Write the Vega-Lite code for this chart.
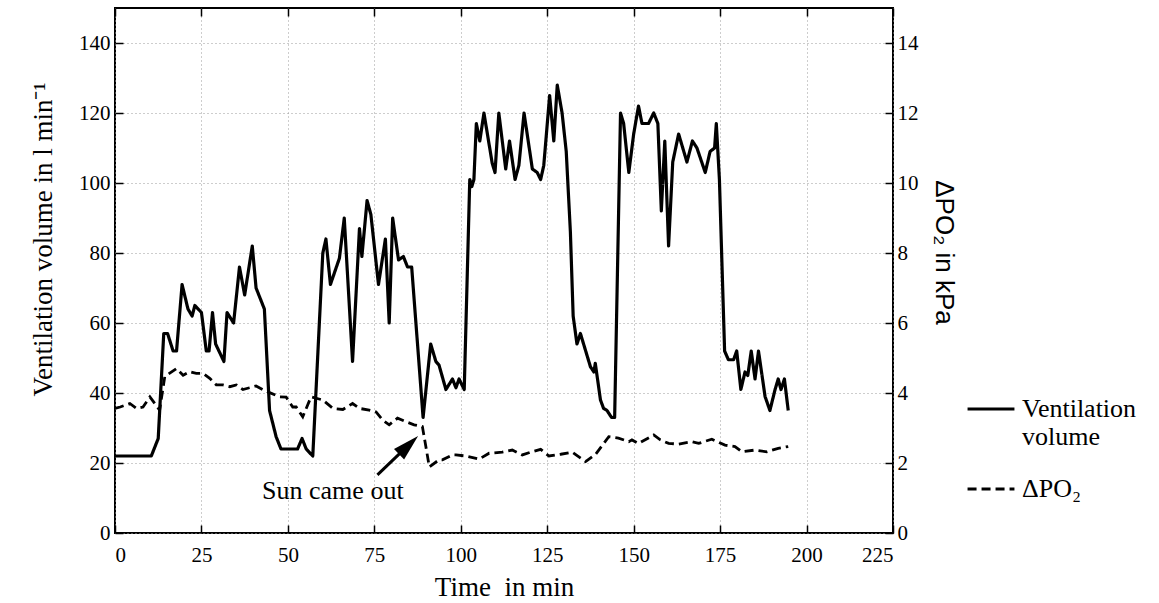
{
  "$schema": "https://vega.github.io/schema/vega-lite/v6.json",
  "width": 778,
  "height": 525,
  "autosize": {"type": "none"},
  "padding": {"left": 115, "top": 8, "right": 266, "bottom": 70},
  "background": "white",
  "config": {
    "view": {"stroke": "black", "strokeWidth": 2},
    "font": "Liberation Serif",
    "axis": {
      "domain": false,
      "labelFont": "Liberation Serif",
      "labelFontSize": 21,
      "labelColor": "black",
      "titleFont": "Liberation Serif",
      "titleFontSize": 27,
      "titleFontWeight": "normal",
      "titleColor": "black",
      "tickColor": "black",
      "tickWidth": 1.5,
      "tickSize": -8,
      "gridColor": "#9a9a9a",
      "gridDash": [1, 3],
      "gridWidth": 1
    },
    "legend": {
      "labelFont": "Liberation Serif",
      "labelFontSize": 26,
      "labelColor": "black"
    }
  },
  "datasets": {
    "vent": [
      {"t": 0, "vent": 22}, {"t": 10.5, "vent": 22}, {"t": 12.5, "vent": 27}, {"t": 14.1, "vent": 57},
      {"t": 15.2, "vent": 57}, {"t": 16.8, "vent": 52}, {"t": 17.8, "vent": 52}, {"t": 19.4, "vent": 71},
      {"t": 21.1, "vent": 64}, {"t": 22.3, "vent": 62}, {"t": 23.1, "vent": 65}, {"t": 25, "vent": 63},
      {"t": 26.4, "vent": 52}, {"t": 27.2, "vent": 52}, {"t": 28.2, "vent": 63}, {"t": 29.1, "vent": 54},
      {"t": 31.5, "vent": 49}, {"t": 32.4, "vent": 63}, {"t": 34.3, "vent": 60}, {"t": 36, "vent": 76},
      {"t": 37.5, "vent": 68}, {"t": 39.7, "vent": 82}, {"t": 40.8, "vent": 70}, {"t": 43.2, "vent": 64},
      {"t": 44.7, "vent": 35}, {"t": 46.6, "vent": 27.5}, {"t": 48, "vent": 24}, {"t": 52.8, "vent": 24},
      {"t": 54.1, "vent": 27}, {"t": 55.3, "vent": 24}, {"t": 57.2, "vent": 22}, {"t": 60.1, "vent": 80},
      {"t": 61, "vent": 84}, {"t": 62.3, "vent": 71}, {"t": 64.9, "vent": 78.5}, {"t": 66.3, "vent": 90},
      {"t": 68.7, "vent": 49}, {"t": 70.7, "vent": 87}, {"t": 71.4, "vent": 79}, {"t": 72.9, "vent": 95},
      {"t": 74, "vent": 91}, {"t": 76.2, "vent": 71}, {"t": 78.2, "vent": 84}, {"t": 79.3, "vent": 60},
      {"t": 80.3, "vent": 90}, {"t": 82, "vent": 78}, {"t": 83.4, "vent": 79}, {"t": 84.6, "vent": 76},
      {"t": 85.8, "vent": 76}, {"t": 89.1, "vent": 33}, {"t": 91.3, "vent": 54}, {"t": 92.8, "vent": 49},
      {"t": 93.7, "vent": 48}, {"t": 95.7, "vent": 41}, {"t": 97.6, "vent": 44}, {"t": 98.6, "vent": 41.5},
      {"t": 99.5, "vent": 44}, {"t": 101, "vent": 41}, {"t": 102.6, "vent": 101}, {"t": 103.2, "vent": 99},
      {"t": 103.8, "vent": 101}, {"t": 104.5, "vent": 117}, {"t": 105.5, "vent": 112}, {"t": 106.7, "vent": 120},
      {"t": 109.1, "vent": 105.6}, {"t": 109.9, "vent": 103}, {"t": 111, "vent": 120}, {"t": 113, "vent": 104},
      {"t": 114.1, "vent": 112}, {"t": 115.7, "vent": 101}, {"t": 116.8, "vent": 105}, {"t": 118.3, "vent": 120},
      {"t": 120.7, "vent": 104}, {"t": 122.1, "vent": 103}, {"t": 123.1, "vent": 101}, {"t": 124, "vent": 105},
      {"t": 125.7, "vent": 125}, {"t": 126.9, "vent": 112}, {"t": 127.9, "vent": 128}, {"t": 129.3, "vent": 120},
      {"t": 130.5, "vent": 109}, {"t": 131.7, "vent": 86}, {"t": 132.5, "vent": 62}, {"t": 133.6, "vent": 54},
      {"t": 134.6, "vent": 57}, {"t": 137.5, "vent": 47.5}, {"t": 138.5, "vent": 46}, {"t": 138.9, "vent": 48.5},
      {"t": 140.4, "vent": 38}, {"t": 141.3, "vent": 35.6}, {"t": 142.3, "vent": 35}, {"t": 143.6, "vent": 33},
      {"t": 144.5, "vent": 33}, {"t": 146.2, "vent": 120}, {"t": 147.1, "vent": 117}, {"t": 148.6, "vent": 103},
      {"t": 150, "vent": 114}, {"t": 151.4, "vent": 122}, {"t": 152.4, "vent": 117}, {"t": 154.3, "vent": 117},
      {"t": 155.8, "vent": 120}, {"t": 157, "vent": 117}, {"t": 158, "vent": 92}, {"t": 159, "vent": 112},
      {"t": 160.1, "vent": 82}, {"t": 161.3, "vent": 106}, {"t": 163, "vent": 114}, {"t": 165.4, "vent": 106},
      {"t": 167, "vent": 112}, {"t": 168.3, "vent": 110}, {"t": 170.7, "vent": 103}, {"t": 172.1, "vent": 109},
      {"t": 173.4, "vent": 110}, {"t": 173.9, "vent": 117}, {"t": 174.8, "vent": 101}, {"t": 175.5, "vent": 78},
      {"t": 176.3, "vent": 52}, {"t": 177.4, "vent": 49.5}, {"t": 178.9, "vent": 49.5}, {"t": 179.8, "vent": 52},
      {"t": 181, "vent": 41}, {"t": 182.2, "vent": 46}, {"t": 183, "vent": 45}, {"t": 184, "vent": 52},
      {"t": 185.1, "vent": 44}, {"t": 186.1, "vent": 52}, {"t": 188, "vent": 39}, {"t": 189.4, "vent": 35},
      {"t": 190.9, "vent": 41}, {"t": 191.8, "vent": 44}, {"t": 192.6, "vent": 41}, {"t": 193.6, "vent": 44},
      {"t": 194.7, "vent": 35}
    ],
    "po2": [
      {"t": 0, "po2": 3.56}, {"t": 1.5, "po2": 3.6}, {"t": 4.3, "po2": 3.7}, {"t": 6.2, "po2": 3.56},
      {"t": 8.1, "po2": 3.6}, {"t": 10.1, "po2": 3.89}, {"t": 12.9, "po2": 3.51}, {"t": 14.4, "po2": 4.47},
      {"t": 17.8, "po2": 4.7}, {"t": 19.7, "po2": 4.51}, {"t": 21.6, "po2": 4.61}, {"t": 23.5, "po2": 4.56},
      {"t": 25.5, "po2": 4.56}, {"t": 27.4, "po2": 4.42}, {"t": 29.3, "po2": 4.23}, {"t": 31.2, "po2": 4.23},
      {"t": 33.2, "po2": 4.18}, {"t": 35.1, "po2": 4.23}, {"t": 37, "po2": 4.1}, {"t": 38.9, "po2": 4.15},
      {"t": 40.8, "po2": 4.2}, {"t": 42.7, "po2": 4.1}, {"t": 44.7, "po2": 4.01}, {"t": 47.6, "po2": 3.89},
      {"t": 49.5, "po2": 3.88}, {"t": 51.4, "po2": 3.6}, {"t": 52.4, "po2": 3.6}, {"t": 54.3, "po2": 3.32},
      {"t": 56.7, "po2": 3.89}, {"t": 58.2, "po2": 3.85}, {"t": 60.1, "po2": 3.8}, {"t": 63, "po2": 3.56},
      {"t": 65.9, "po2": 3.53}, {"t": 68.7, "po2": 3.7}, {"t": 70.7, "po2": 3.56}, {"t": 73.5, "po2": 3.51},
      {"t": 75.5, "po2": 3.46}, {"t": 77.4, "po2": 3.23}, {"t": 79.3, "po2": 3.09}, {"t": 81.7, "po2": 3.28},
      {"t": 84.1, "po2": 3.18}, {"t": 86.5, "po2": 3.09}, {"t": 88.9, "po2": 3.04}, {"t": 89.9, "po2": 2.47},
      {"t": 90.9, "po2": 1.89}, {"t": 93.7, "po2": 2.09}, {"t": 94.7, "po2": 2.09}, {"t": 97.6, "po2": 2.23},
      {"t": 98.6, "po2": 2.23}, {"t": 101.4, "po2": 2.2}, {"t": 105.3, "po2": 2.11}, {"t": 108.2, "po2": 2.28},
      {"t": 112, "po2": 2.31}, {"t": 114.9, "po2": 2.37}, {"t": 117.8, "po2": 2.23}, {"t": 120.2, "po2": 2.31},
      {"t": 123.1, "po2": 2.39}, {"t": 125.5, "po2": 2.2}, {"t": 128.9, "po2": 2.25}, {"t": 132.2, "po2": 2.31},
      {"t": 136.1, "po2": 2.04}, {"t": 139, "po2": 2.25}, {"t": 142.8, "po2": 2.75}, {"t": 145.6, "po2": 2.71},
      {"t": 148.6, "po2": 2.61}, {"t": 149.5, "po2": 2.66}, {"t": 151.4, "po2": 2.56}, {"t": 155.8, "po2": 2.8},
      {"t": 157.7, "po2": 2.66}, {"t": 160.1, "po2": 2.56}, {"t": 163, "po2": 2.54}, {"t": 166.8, "po2": 2.61},
      {"t": 168.8, "po2": 2.56}, {"t": 172.6, "po2": 2.68}, {"t": 176.4, "po2": 2.51}, {"t": 179.3, "po2": 2.47},
      {"t": 181.3, "po2": 2.32}, {"t": 185.1, "po2": 2.37}, {"t": 188.5, "po2": 2.32}, {"t": 191.8, "po2": 2.42},
      {"t": 194.7, "po2": 2.47}
    ],
    "note": [{"t": 63, "v": 12, "label": "Sun came out"}],
    "arrow": [{"t": 75.9, "v": 16.6, "t2": 85.4, "v2": 25.6}],
    "head": [{"t": 84.9, "v": 25.1}]
  },
  "layer": [
    {
      "data": {"name": "vent"},
      "mark": {"type": "line", "color": "black", "strokeWidth": 3.2, "strokeJoin": "round"},
      "encoding": {
        "x": {
          "field": "t", "type": "quantitative",
          "scale": {"domain": [0, 225], "nice": false},
          "axis": {"values": [0, 25, 50, 75, 100, 125, 150, 175, 200, 225], "title": "Time\u00a0 in min", "labelPadding": 19, "titlePadding": 9, "grid": true}
        },
        "y": {
          "field": "vent", "type": "quantitative",
          "scale": {"domain": [0, 150], "nice": false},
          "axis": {"values": [0, 20, 40, 60, 80, 100, 120, 140], "title": "Ventilation volume in l min⁻¹", "labelPadding": 13, "titlePadding": 21, "titleY": 231, "grid": true}
        },
        "strokeDash": {
          "datum": "Ventilation volume", "type": "nominal",
          "scale": {"domain": ["Ventilation volume", "ΔPO₂"], "range": [[1, 0], [9, 5]]},
          "legend": {
            "orient": "none", "legendX": 851, "legendY": 376, "title": null,
            "symbolType": "stroke", "symbolSize": 2200, "symbolStrokeWidth": 3, "symbolStrokeColor": "black",
            "labelOffset": 6, "labelLimit": 300, "rowPadding": 14,
            "labelExpr": "datum.label == 'Ventilation volume' ? ['Ventilation', 'volume'] : datum.label"
          }
        }
      }
    },
    {
      "data": {"name": "po2"},
      "mark": {"type": "line", "color": "black", "strokeWidth": 2.8},
      "encoding": {
        "x": {"field": "t", "type": "quantitative", "axis": null},
        "y": {
          "field": "po2", "type": "quantitative",
          "scale": {"domain": [0, 15], "nice": false},
          "axis": {"orient": "right", "values": [0, 2, 4, 6, 8, 10, 12, 14], "title": "ΔPO₂ in kPa", "titleFont": "Liberation Sans", "titleFontSize": 26, "labelPadding": 12, "titlePadding": 12, "titleY": 244, "grid": false}
        },
        "strokeDash": {"datum": "ΔPO₂", "type": "nominal"}
      }
    },
    {
      "data": {"name": "note"},
      "mark": {"type": "text", "font": "Liberation Serif", "fontSize": 26, "color": "black", "baseline": "middle", "align": "center"},
      "encoding": {
        "x": {"field": "t", "type": "quantitative", "axis": {"orient": "top", "values": [0, 25, 50, 75, 100, 125, 150, 175, 200, 225], "labels": false, "title": null, "grid": false}},
        "y": {"field": "v", "type": "quantitative", "scale": {"domain": [0, 150], "nice": false}, "axis": null},
        "text": {"field": "label"}
      }
    },
    {
      "data": {"name": "arrow"},
      "mark": {"type": "rule", "color": "black", "strokeWidth": 3},
      "encoding": {
        "x": {"field": "t", "type": "quantitative", "axis": null},
        "y": {"field": "v", "type": "quantitative", "scale": {"domain": [0, 150], "nice": false}, "axis": null},
        "x2": {"field": "t2"},
        "y2": {"field": "v2"}
      }
    },
    {
      "data": {"name": "head"},
      "mark": {"type": "point", "filled": true, "color": "black", "opacity": 1, "shape": "M0,-1L0.55,1L-0.55,1Z", "size": 700, "angle": 46},
      "encoding": {
        "x": {"field": "t", "type": "quantitative", "axis": null},
        "y": {"field": "v", "type": "quantitative", "scale": {"domain": [0, 150], "nice": false}, "axis": null}
      }
    }
  ],
  "resolve": {"scale": {"y": "independent"}, "axis": {"x": "independent"}}
}
